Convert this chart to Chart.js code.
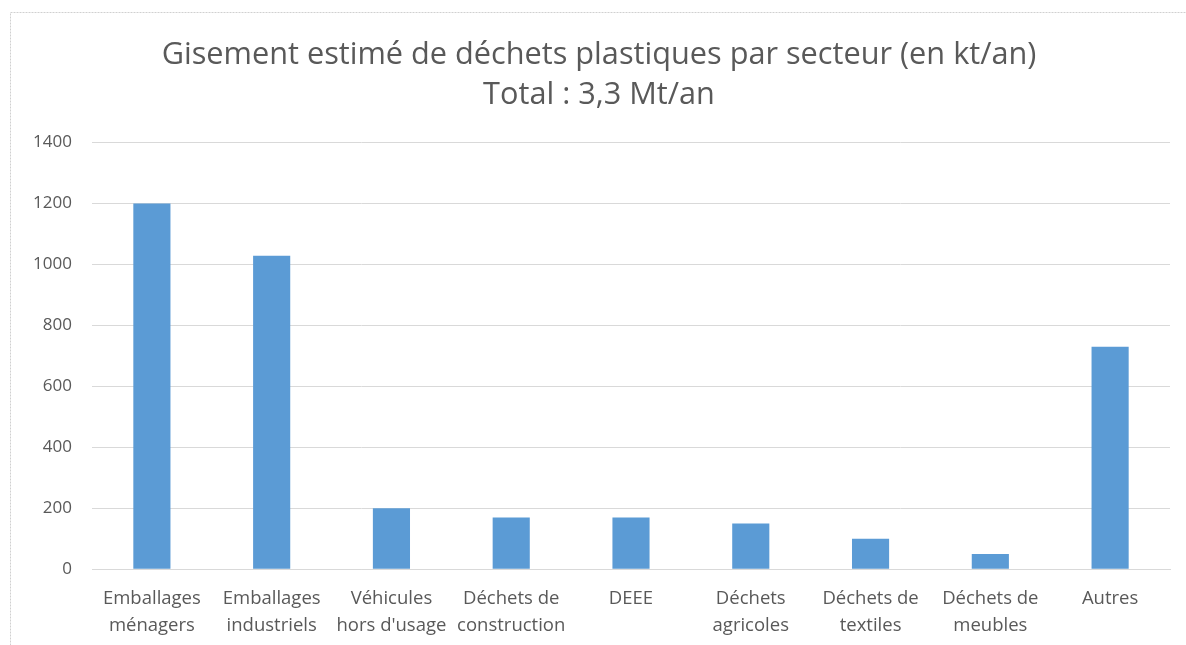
<!DOCTYPE html>
<html>
<head>
<meta charset="utf-8">
<script src="https://cdn.jsdelivr.net/npm/chart.js@4/dist/chart.umd.min.js"></script>
<style>
  html, body { margin: 0; padding: 0; background: #fff; }
  #wrap { width: 1186px; height: 645px; }
</style>
</head>
<body>
<div id="wrap"><canvas id="myChart" width="1186" height="645"></canvas></div>
<script>
const categories = [
  ['Emballages', 'ménagers'],
  ['Emballages', 'industriels'],
  ['Véhicules', "hors d'usage"],
  ['Déchets de', 'construction'],
  'DEEE',
  ['Déchets', 'agricoles'],
  ['Déchets de', 'textiles'],
  ['Déchets de', 'meubles'],
  'Autres'
];
const gisement = [1200, 1028, 200, 170, 170, 150, 100, 50, 730];
const titleLines = ['Gisement estimé de déchets plastiques par secteur (en kt/an)', 'Total : 3,3 Mt/an'];

// dotted frame around the chart, like the office export
const framePlugin = {
  id: 'frame',
  beforeDraw(chart) {
    const ctx = chart.ctx;
    ctx.save();
    ctx.strokeStyle = '#d0d0d0';
    ctx.lineWidth = 1;
    ctx.setLineDash([2, 1]);
    ctx.strokeRect(10.5, 12.5, 1190, 640);
    ctx.restore();
  }
};

const ctx = document.getElementById('myChart').getContext('2d');
new Chart(ctx, {
  type: 'bar',
  data: {
    labels: categories,
    datasets: [{
      data: gisement,
      backgroundColor: '#5b9bd5',
      barPercentage: 0.62,
      categoryPercentage: 0.5
    }]
  },
  options: {
    responsive: false,
    animation: false,
    layout: { padding: { left: 28, right: 16, top: 35, bottom: -10 } },
    scales: {
      x: {
        grid: { display: false, drawTicks: false },
        border: { color: '#d9d9d9', width: 1 },
        ticks: {
          color: '#595959',
          font: { family: 'Open Sans', size: 18.5, lineHeight: 1.45 },
          padding: 16,
          maxRotation: 0,
          autoSkip: false
        }
      },
      y: {
        min: 0,
        max: 1400,
        grid: { color: '#d9d9d9', drawTicks: false },
        border: { display: false },
        ticks: {
          stepSize: 200,
          color: '#595959',
          font: { family: 'Open Sans', size: 17 },
          padding: 20,
          callback: v => String(v)
        },
        afterFit(scale) { scale.width = 64; }
      }
    },
    plugins: {
      legend: { display: false },
      tooltip: { enabled: false },
      title: {
        display: true,
        text: titleLines,
        color: '#595959',
        font: { family: 'Open Sans', size: 30.7, weight: 'normal', lineHeight: 1.31 },
        padding: { top: 0, bottom: 27 }
      }
    }
  },
  plugins: [framePlugin]
});
</script>
</body>
</html>
